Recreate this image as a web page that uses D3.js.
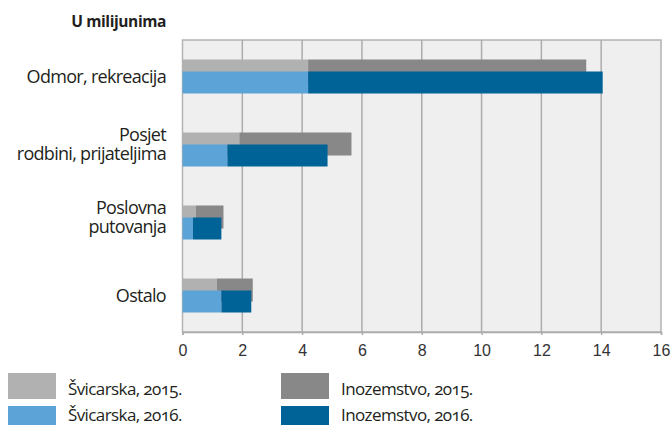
<!DOCTYPE html>
<html>
<head>
<meta charset="utf-8">
<script src="https://cdn.jsdelivr.net/npm/d3@7"></script>
<style>
  body { margin: 0; background: #fff; }
  svg { display: block; }
  .lbl { font-family: "Open Sans", sans-serif; fill: #231f20; }
  .tick text { font-family: "Liberation Sans", Arial, sans-serif; }
</style>
</head>
<body>
<div id="chart"></div>
<script>
// data, in millions
const categories = ["Odmor, rekreacija", "Posjet rodbini, prijateljima", "Poslovna putovanja", "Ostalo"];
const labelLines = [["Odmor, rekreacija"], ["Posjet", "rodbini, prijateljima"], ["Poslovna", "putovanja"], ["Ostalo"]];
const svicarska2015 = [4.2, 1.9, 0.45, 1.15];
const inozemstvo2015 = [9.3, 3.75, 0.92, 1.2];
const svicarska2016 = [4.2, 1.5, 0.35, 1.3];
const inozemstvo2016 = [9.85, 3.35, 0.95, 1.0];
const xTicks = [0, 2, 4, 6, 8, 10, 12, 14, 16];
const legendNames = ["Švicarska, 2015.", "Inozemstvo, 2015.", "Švicarska, 2016.", "Inozemstvo, 2016."];

const colors = {
  sv2015: "#b1b1b1", ino2015: "#888888",
  sv2016: "#5ca4d8", ino2016: "#006398"
};

const width = 671, height = 425;
const plotLeft = 182.5, plotRight = 661, plotTop = 40, plotBottom = 332;

const svg = d3.select("#chart").append("svg")
  .attr("width", width)
  .attr("height", height);

const x = d3.scaleLinear().domain([0, 16]).range([plotLeft, plotRight]);
const y = d3.scaleBand().domain(categories).range([plotTop, plotBottom]);

// plot background
svg.append("rect")
  .attr("x", plotLeft).attr("y", plotTop)
  .attr("width", plotRight - plotLeft).attr("height", plotBottom - plotTop)
  .attr("fill", "#efefef")
  .attr("stroke", "#b3b3b3")
  .attr("stroke-width", 1.5);

// grid lines
svg.append("g")
  .selectAll("line")
  .data(xTicks.slice(1, -1))
  .join("line")
  .attr("x1", d => x(d)).attr("x2", d => x(d))
  .attr("y1", plotTop).attr("y2", plotBottom)
  .attr("stroke", "#acacac")
  .attr("stroke-width", 1.5);

// axis
const axis = svg.append("g")
  .attr("transform", `translate(0,${plotBottom})`)
  .call(d3.axisBottom(x).tickValues(xTicks).tickSize(3).tickPadding(10));
axis.select(".domain").attr("stroke", "#acacac").attr("stroke-width", 1.5);
axis.selectAll(".tick line").attr("stroke", "#acacac").attr("stroke-width", 1.5);
axis.selectAll(".tick text").attr("fill", "#333").style("font-size", "16px");

// stacked bars, two per category
const rows = categories.map((c, i) => ({
  cat: c,
  sv2015: svicarska2015[i], ino2015: inozemstvo2015[i],
  sv2016: svicarska2016[i], ino2016: inozemstvo2016[i]
}));

const groupH = 34;
const yearBars = [
  { keys: ["sv2015", "ino2015"], off: 0, h: 23 },
  { keys: ["sv2016", "ino2016"], off: 12, h: 22 }
];

yearBars.forEach(yb => {
  const series = d3.stack().keys(yb.keys)(rows);
  svg.append("g")
    .selectAll("g")
    .data(series)
    .join("g")
    .attr("fill", d => colors[d.key])
    .selectAll("rect")
    .data(d => d)
    .join("rect")
    .attr("x", d => x(d[0]))
    .attr("width", d => x(d[1]) - x(d[0]))
    .attr("y", d => y(d.data.cat) + (y.bandwidth() - groupH) / 2 + yb.off)
    .attr("height", yb.h);
});

// category labels
const labels = svg.append("g")
  .selectAll("text")
  .data(categories)
  .join("text")
  .attr("class", "lbl")
  .attr("text-anchor", "end")
  .style("font-size", "18px")
  .style("letter-spacing", "-0.7px")
  .attr("transform", d => `translate(166,${y(d) + y.bandwidth() / 2})`);

labels.each(function (d, i) {
  const lines = labelLines[i];
  const t = d3.select(this);
  lines.forEach((ln, j) => {
    const dy = lines.length === 1 ? 6.5 : (j === 0 ? -8.5 : 10.5);
    t.append("tspan").attr("x", 0).attr("y", dy).text(ln);
  });
});

// title
svg.append("text")
  .attr("class", "lbl")
  .attr("x", 166).attr("y", 27)
  .attr("text-anchor", "end")
  .style("font-size", "15.5px")
  .style("font-weight", "bold")
  .style("letter-spacing", "-0.4px")
  .text("U milijunima");

// legend
const legendKeys = ["sv2015", "ino2015", "sv2016", "ino2016"];
const rowTop = [373, 406], rowBase = [395, 421];
const legend = svg.append("g")
  .selectAll("g")
  .data(legendKeys)
  .join("g")
  .attr("transform", (d, i) => `translate(${i % 2 === 0 ? 8 : 281},0)`);

legend.append("rect")
  .attr("y", (d, i) => rowTop[i < 2 ? 0 : 1])
  .attr("width", 48).attr("height", 26)
  .attr("fill", d => colors[d]);

legend.append("text")
  .attr("class", "lbl")
  .attr("x", 60)
  .attr("y", (d, i) => rowBase[i < 2 ? 0 : 1])
  .style("font-size", "17px")
  .style("letter-spacing", "-0.6px")
  .style("font-variant-numeric", "oldstyle-nums")
  .text((d, i) => legendNames[i]);
</script>
</body>
</html>
